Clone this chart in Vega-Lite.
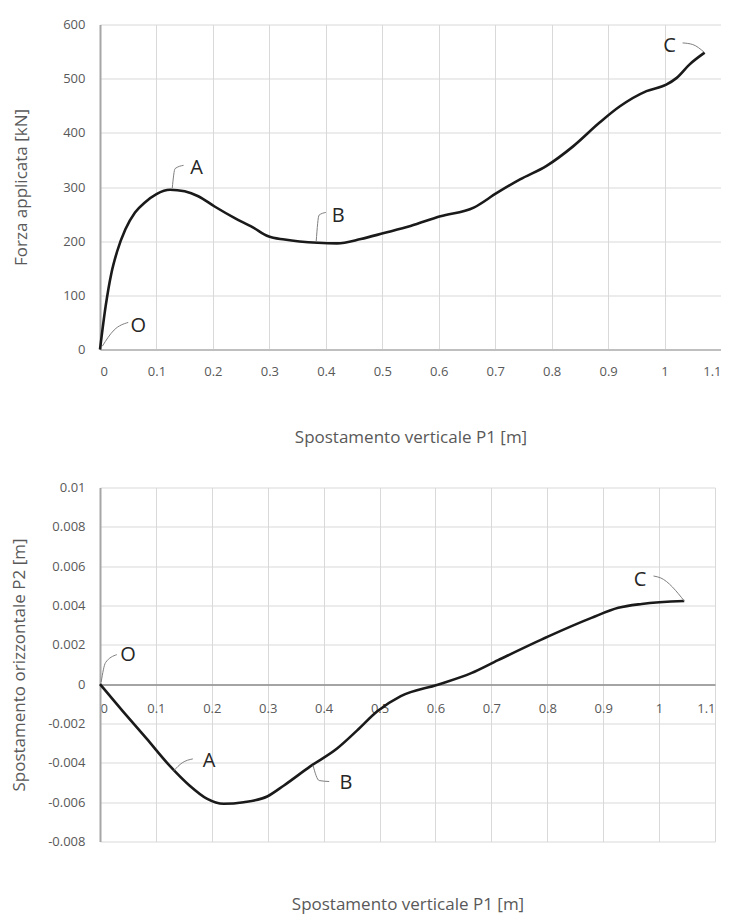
{
  "$schema": "https://vega.github.io/schema/vega-lite/v6.json",
  "background": "white",
  "padding": {"left": 10, "top": 18.5, "right": 0, "bottom": 3},
  "align": "none",
  "spacing": 36,
  "config": {
    "view": {"stroke": null},
    "font": "Open Sans",
    "axis": {
      "labelFont": "Open Sans", "labelFontSize": 13, "labelColor": "#595959",
      "titleFont": "Open Sans", "titleFontSize": 17, "titleColor": "#595959", "titleFontWeight": "normal",
      "gridColor": "#d9d9d9", "gridWidth": 1, "ticks": false, "tickSize": 0,
      "domainColor": "#a6a6a6", "domainWidth": 2, "labelOverlap": false, "tickCount": 30
    }
  },
  "datasets": {
    "top": [
      {"x": 0, "y": 0}, {"x": 0.01, "y": 80}, {"x": 0.02, "y": 140}, {"x": 0.03, "y": 180},
      {"x": 0.045, "y": 222}, {"x": 0.062, "y": 253}, {"x": 0.08, "y": 272}, {"x": 0.1, "y": 287},
      {"x": 0.124, "y": 295}, {"x": 0.15, "y": 292}, {"x": 0.174, "y": 283}, {"x": 0.203, "y": 264},
      {"x": 0.238, "y": 243}, {"x": 0.27, "y": 226}, {"x": 0.298, "y": 209}, {"x": 0.327, "y": 203},
      {"x": 0.386, "y": 197}, {"x": 0.42, "y": 196}, {"x": 0.462, "y": 204}, {"x": 0.503, "y": 215},
      {"x": 0.55, "y": 228}, {"x": 0.603, "y": 246}, {"x": 0.662, "y": 262}, {"x": 0.703, "y": 289},
      {"x": 0.744, "y": 314}, {"x": 0.791, "y": 339}, {"x": 0.838, "y": 375}, {"x": 0.885, "y": 419},
      {"x": 0.921, "y": 449}, {"x": 0.968, "y": 477}, {"x": 1.003, "y": 489}, {"x": 1.021, "y": 501},
      {"x": 1.044, "y": 526}, {"x": 1.071, "y": 548}
    ],
    "topLeaders": [
      {"g": "O", "x": 0.004, "y": 6}, {"g": "O", "x": 0.025, "y": 36}, {"g": "O", "x": 0.05, "y": 50},
      {"g": "A", "x": 0.128, "y": 298}, {"g": "A", "x": 0.133, "y": 334}, {"g": "A", "x": 0.148, "y": 340},
      {"g": "B", "x": 0.383, "y": 200}, {"g": "B", "x": 0.388, "y": 248}, {"g": "B", "x": 0.40, "y": 253},
      {"g": "C", "x": 1.032, "y": 566}, {"g": "C", "x": 1.05, "y": 563}, {"g": "C", "x": 1.071, "y": 548}
    ],
    "topLabels": [
      {"label": "O", "x": 0.068, "y": 43},
      {"label": "A", "x": 0.171, "y": 336},
      {"label": "B", "x": 0.422, "y": 246},
      {"label": "C", "x": 1.009, "y": 560}
    ],
    "bottom": [
      {"x": 0, "y": 0}, {"x": 0.041, "y": -0.00138}, {"x": 0.083, "y": -0.00276}, {"x": 0.124, "y": -0.00413},
      {"x": 0.16, "y": -0.00515}, {"x": 0.191, "y": -0.00582}, {"x": 0.221, "y": -0.00608}, {"x": 0.257, "y": -0.00600},
      {"x": 0.299, "y": -0.00571}, {"x": 0.329, "y": -0.00515}, {"x": 0.376, "y": -0.00418}, {"x": 0.424, "y": -0.00327},
      {"x": 0.46, "y": -0.00235}, {"x": 0.496, "y": -0.00138}, {"x": 0.538, "y": -0.00061}, {"x": 0.604, "y": -0.00003},
      {"x": 0.664, "y": 0.00056}, {"x": 0.712, "y": 0.00122}, {"x": 0.802, "y": 0.00243}, {"x": 0.879, "y": 0.00337},
      {"x": 0.927, "y": 0.00388}, {"x": 0.969, "y": 0.00408}, {"x": 1.045, "y": 0.00423}
    ],
    "bottomLeaders": [
      {"g": "O", "x": 0.002, "y": 0.0001}, {"g": "O", "x": 0.01, "y": 0.0011}, {"g": "O", "x": 0.03, "y": 0.0015},
      {"g": "A", "x": 0.132, "y": -0.0044}, {"g": "A", "x": 0.147, "y": -0.0040}, {"g": "A", "x": 0.166, "y": -0.0038},
      {"g": "B", "x": 0.381, "y": -0.00413}, {"g": "B", "x": 0.392, "y": -0.0049}, {"g": "B", "x": 0.41, "y": -0.00495},
      {"g": "C", "x": 0.99, "y": 0.0055}, {"g": "C", "x": 1.003, "y": 0.0054}, {"g": "C", "x": 1.045, "y": 0.00423}
    ],
    "bottomLabels": [
      {"label": "O", "x": 0.05, "y": 0.00148},
      {"label": "A", "x": 0.195, "y": -0.00393},
      {"label": "B", "x": 0.44, "y": -0.00505},
      {"label": "C", "x": 0.966, "y": 0.0053}
    ]
  },
  "vconcat": [
    {
      "width": 621,
      "height": 325,
      "layer": [
        {
          "data": {"name": "top"},
          "mark": {"type": "line", "color": "#1a1a1a", "strokeWidth": 2.6, "interpolate": "monotone"},
          "encoding": {
            "x": {"field": "x", "type": "quantitative",
              "scale": {"domain": [0, 1.1], "nice": false},
              "axis": {"title": "Spostamento verticale P1 [m]", "values": [0, 0.1, 0.2, 0.3, 0.4, 0.5, 0.6, 0.7, 0.8, 0.9, 1, 1.1],
                "format": "~g", "labelPadding": 15.5, "titlePadding": 51, "domainColor": "#bfbfbf"}},
            "y": {"field": "y", "type": "quantitative",
              "scale": {"domain": [0, 600], "nice": false},
              "axis": {"title": "Forza applicata [kN]", "values": [0, 100, 200, 300, 400, 500, 600],
                "labelPadding": 15, "minExtent": 58, "maxExtent": 58, "titlePadding": 12}}
          }
        },
        {
          "data": {"name": "topLeaders"},
          "mark": {"type": "line", "color": "#7f7f7f", "strokeWidth": 1, "interpolate": "monotone"},
          "encoding": {
            "x": {"field": "x", "type": "quantitative"},
            "y": {"field": "y", "type": "quantitative"},
            "detail": {"field": "g"}
          }
        },
        {
          "data": {"name": "topLabels"},
          "mark": {"type": "text", "font": "Open Sans", "fontSize": 20, "color": "#262626"},
          "encoding": {
            "x": {"field": "x", "type": "quantitative"},
            "y": {"field": "y", "type": "quantitative"},
            "text": {"field": "label"}
          }
        }
      ]
    },
    {
      "width": 615,
      "height": 354,
      "layer": [
        {
          "data": {"name": "bottom"},
          "mark": {"type": "line", "color": "#1a1a1a", "strokeWidth": 2.6, "interpolate": "monotone"},
          "encoding": {
            "x": {"field": "x", "type": "quantitative",
              "scale": {"domain": [0, 1.1], "nice": false},
              "axis": {"title": "Spostamento verticale P1 [m]", "values": [0, 0.1, 0.2, 0.3, 0.4, 0.5, 0.6, 0.7, 0.8, 0.9, 1, 1.1],
                "format": "~g", "offset": -157, "labelPadding": 17.5, "titlePadding": 181,
                "domainColor": "#8c8c8c", "domainWidth": 1.5}},
            "y": {"field": "y", "type": "quantitative",
              "scale": {"domain": [-0.008, 0.01], "nice": false},
              "axis": {"title": "Spostamento orizzontale P2 [m]",
                "values": [-0.008, -0.006, -0.004, -0.002, 0, 0.002, 0.004, 0.006, 0.008, 0.01],
                "tickCount": 30,
                "format": "~g", "labelExpr": "replace(datum.label, '\u2212', '-')",
                "labelPadding": 15, "minExtent": 60, "maxExtent": 60, "titlePadding": 12}}
          }
        },
        {
          "data": {"name": "bottomLeaders"},
          "mark": {"type": "line", "color": "#7f7f7f", "strokeWidth": 1, "interpolate": "monotone"},
          "encoding": {
            "x": {"field": "x", "type": "quantitative"},
            "y": {"field": "y", "type": "quantitative"},
            "detail": {"field": "g"}
          }
        },
        {
          "data": {"name": "bottomLabels"},
          "mark": {"type": "text", "font": "Open Sans", "fontSize": 20, "color": "#262626"},
          "encoding": {
            "x": {"field": "x", "type": "quantitative"},
            "y": {"field": "y", "type": "quantitative"},
            "text": {"field": "label"}
          }
        }
      ]
    }
  ]
}
